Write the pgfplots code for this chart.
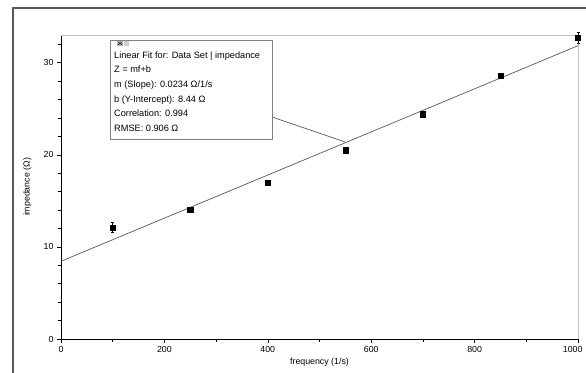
\documentclass[border=0pt]{standalone}
\usepackage{fontspec}
\setmainfont{Liberation Sans}
\usepackage{pgfplots}
\pgfplotsset{compat=1.18}
\begin{document}
\begin{tikzpicture}[x=1pt,y=1pt]
\useasboundingbox (0,0) rectangle (586,372);
\fill[white] (0,0) rectangle (586,372);
\begin{axis}[
  at={(61pt,33pt)}, anchor=south west,
  scale only axis, width=517pt, height=304pt,
  xmin=0, xmax=1000, ymin=0, ymax=33,
  xtick={0,200,...,800}, ytick={0,10,20,30},
  extra x ticks={1000},
  extra x tick style={xticklabel style={anchor=north east, xshift=8pt}},
  minor xtick={100,300,...,900},
  minor ytick={2,4,6,8,12,14,16,18,22,24,26,28,32},
  tick align=outside, tick pos=left,
  major tick length=4pt, minor tick length=2.5pt,
  every tick/.style={black, line width=0.5pt},
  axis x line*=bottom, axis y line*=left,
  axis line style={black, line width=0.6pt},
  tick label style={font=\fontsize{8.8}{10}\selectfont},
  /pgf/number format/assume math mode=true,
  /pgf/number format/set thousands separator={},
  xlabel={frequency (1/s)}, ylabel={impedance (Ω)},
  label style={font=\fontsize{8.8}{10}\selectfont},
  xlabel style={at={(axis description cs:0.5,0)}, anchor=north, yshift=-16pt},
  ylabel style={at={(axis description cs:0,0.5)}, anchor=south, yshift=26pt},
  clip=false,
]
\draw[gray!50, line width=0.8pt] (axis cs:0,33) -- (axis cs:1000,33) -- (axis cs:1000,0);
\addplot[gray!70!black, line width=0.7pt] coordinates {(0,8.44) (1000,31.84)};
\addplot[only marks, mark=square*, mark size=2.6pt, black,
  error bars/.cd, y dir=both, y explicit, error bar style={line width=0.8pt}, error mark options={rotate=90, mark size=1.5pt}]
  coordinates {
  (100,12.1) +- (0,0.55)
  (250,14.0) +- (0,0.15)
  (400,17.0) +- (0,0.15)
  (550,20.5) +- (0,0.15)
  (700,24.4) +- (0,0.15)
  (850,28.6) +- (0,0.15)
  (1000,32.7) +- (0,0.55)
  };
\draw[gray!70!black, line width=0.7pt] (axis cs:408,24.1) -- (axis cs:549,21.4);
\end{axis}
\draw[gray!70!black, line width=1.3pt] (13,-5) -- (13,364) -- (600,364);
\draw[gray, line width=0.6pt, fill=white] (110,233) rectangle (272,332);
\fill[gray!60] (117,326) rectangle (123,331);
\fill[gray!40] (124,326) rectangle (129,331);
\draw[black,line width=0.4pt] (118,327) -- (122,330) (118,330) -- (122,327);
\node[anchor=north west, inner sep=0pt, align=left, font=\fontsize{9.2}{14.6}\selectfont] at (114,320.5)
 {Linear Fit for: Data Set | impedance\\
  Z = mf+b\\
  m (Slope): 0.0234 Ω/1/s\\
  b (Y-Intercept): 8.44 Ω\\
  Correlation: 0.994\\
  RMSE: 0.906 Ω};
\end{tikzpicture}
\end{document}
